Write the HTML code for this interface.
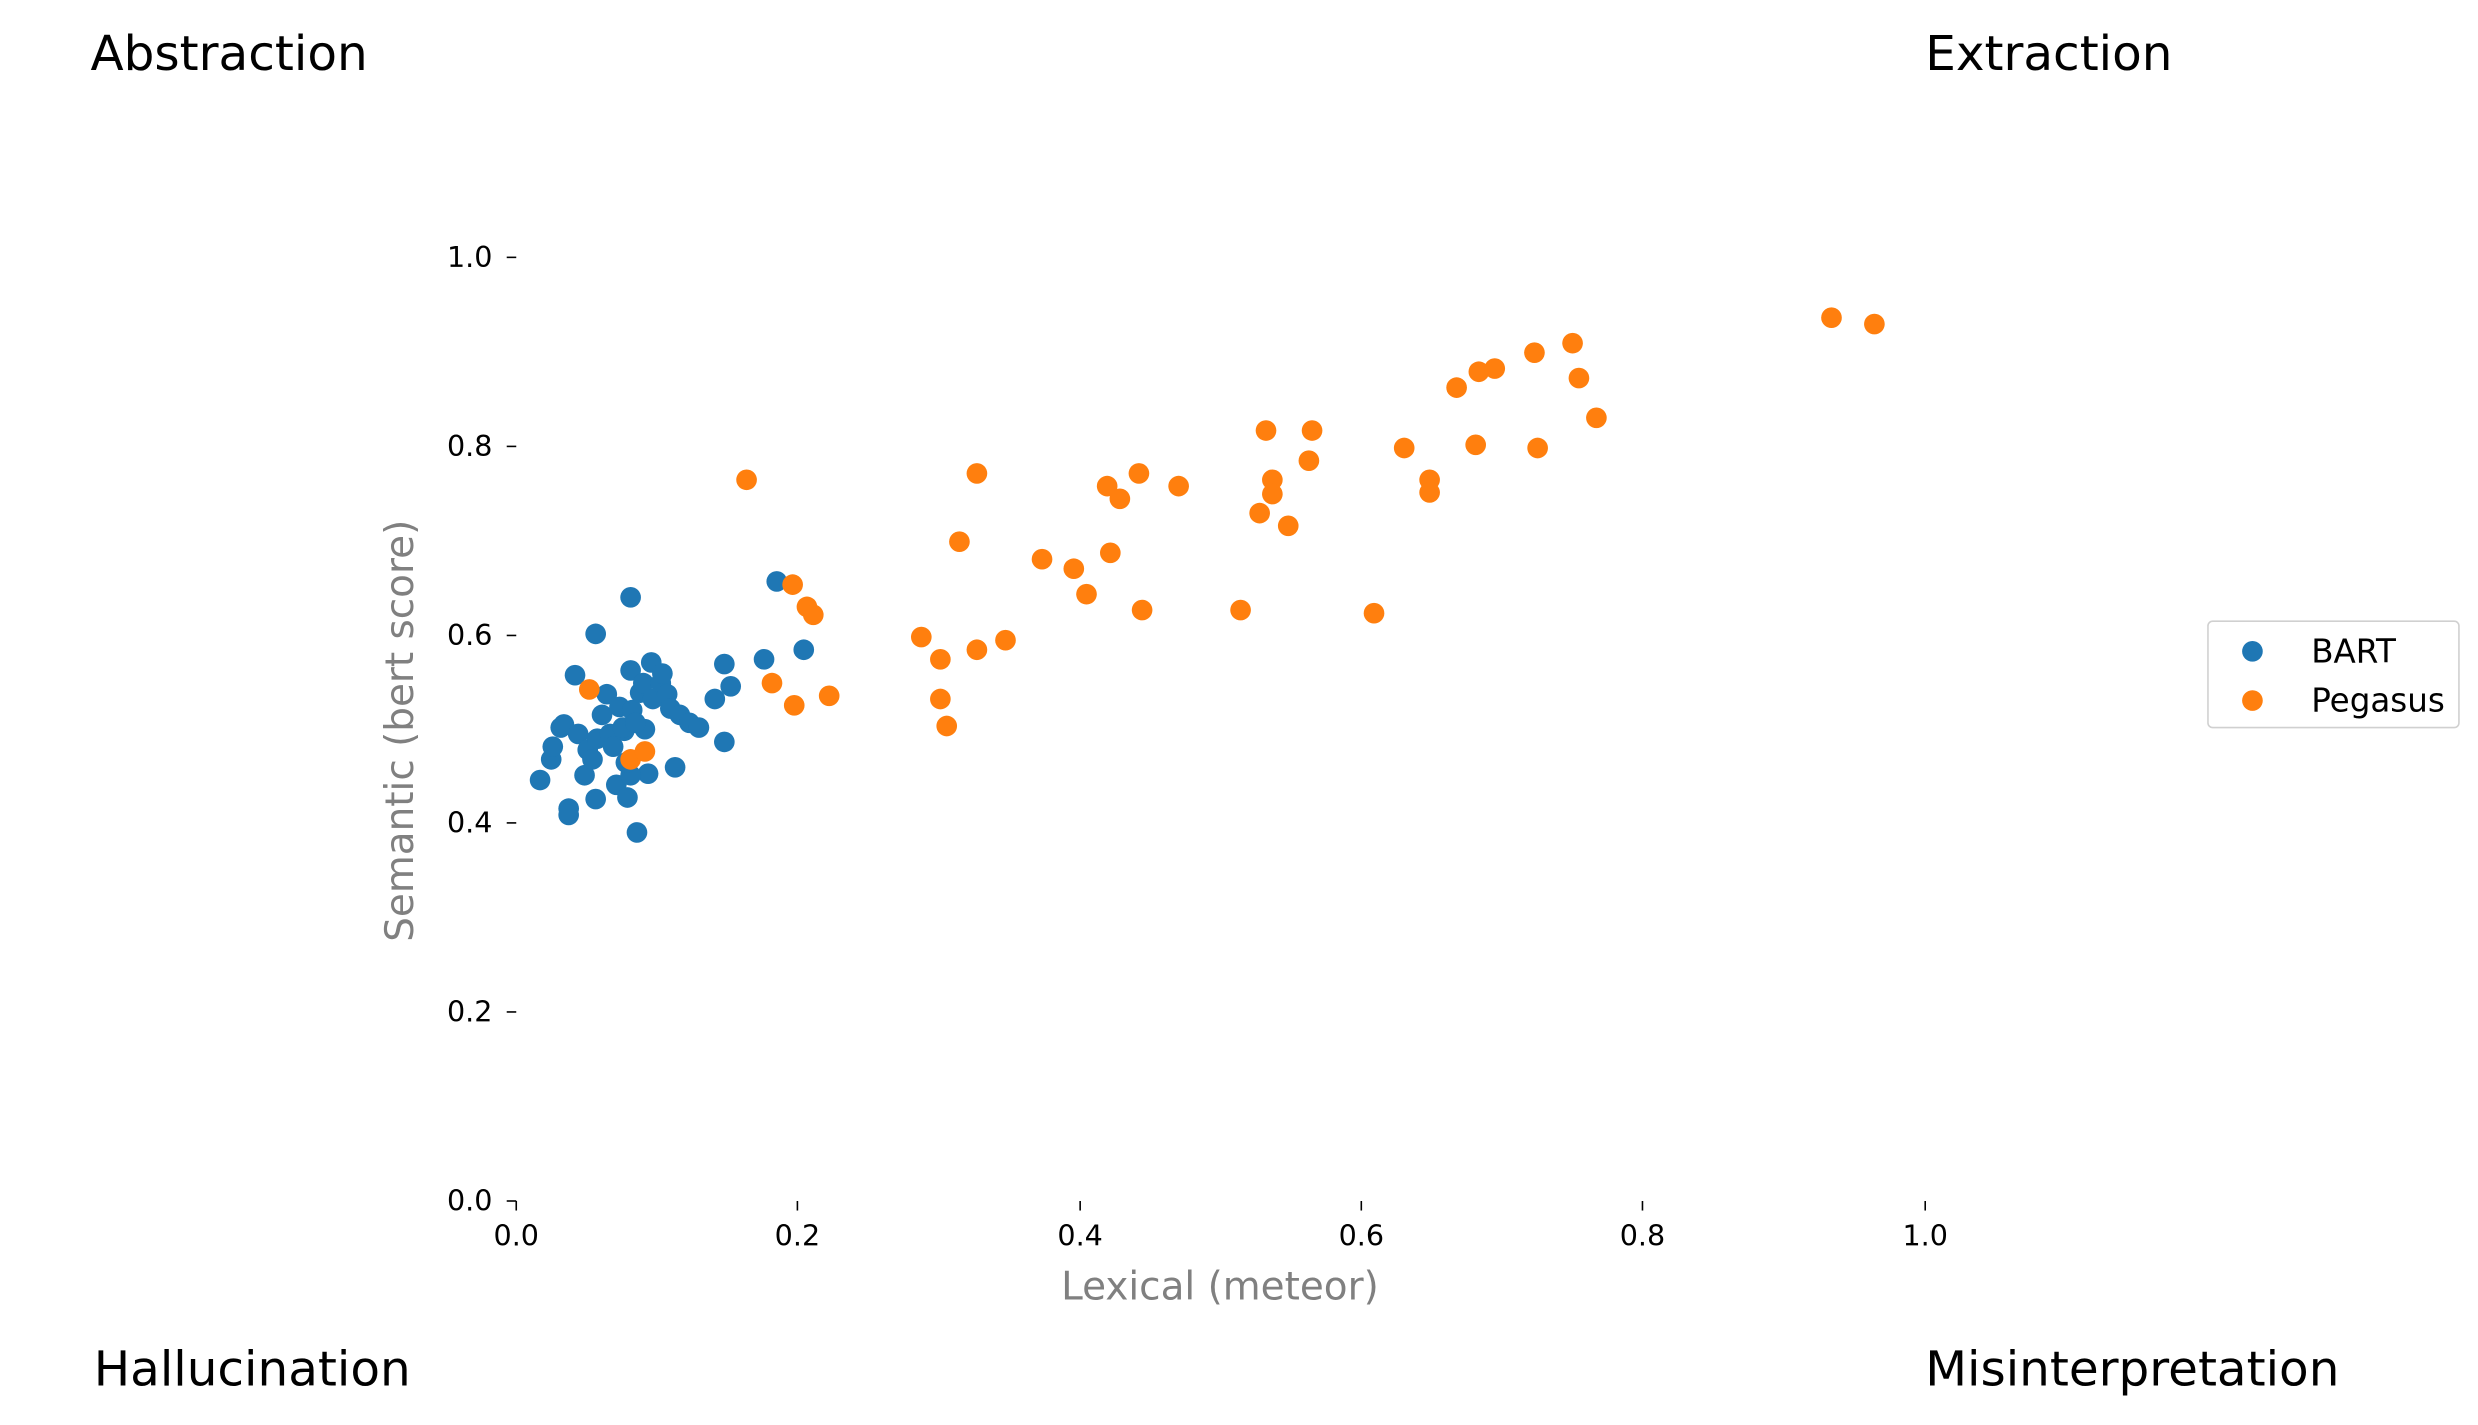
<!DOCTYPE html>
<html><head><meta charset="utf-8"><style>html,body{margin:0;padding:0;background:#fff}svg{display:block}</style></head><body>
<svg width="2478" height="1425" viewBox="0 0 1560 897" preserveAspectRatio="none" xmlns="http://www.w3.org/2000/svg" font-family="DejaVu Sans, Liberation Sans, sans-serif">
<rect width="1560" height="897" fill="#fff"/>
<g font-size="30.5" fill="#000">
<text x="57" y="44">Abstraction</text>
<text x="1212" y="44">Extraction</text>
<text x="59" y="872">Hallucination</text>
<text x="1212" y="872">Misinterpretation</text>
</g>
<g stroke="#000" stroke-width="1">
<line x1="319" y1="162" x2="325" y2="162"/><line x1="319" y1="281" x2="325" y2="281"/><line x1="319" y1="400" x2="325" y2="400"/><line x1="319" y1="518" x2="325" y2="518"/><line x1="319" y1="637" x2="325" y2="637"/><line x1="319" y1="756" x2="325" y2="756"/>
<line x1="325" y1="756" x2="325" y2="762"/><line x1="502" y1="756" x2="502" y2="762"/><line x1="680" y1="756" x2="680" y2="762"/><line x1="857" y1="756" x2="857" y2="762"/><line x1="1034" y1="756" x2="1034" y2="762"/><line x1="1212" y1="756" x2="1212" y2="762"/>
</g>
<g font-size="18" fill="#000" text-anchor="end">
<text x="310" y="168">1.0</text><text x="310" y="287">0.8</text><text x="310" y="406">0.6</text><text x="310" y="524">0.4</text><text x="310" y="643">0.2</text><text x="310" y="762">0.0</text>
</g>
<g font-size="18" fill="#000" text-anchor="middle">
<text x="325" y="784">0.0</text><text x="502" y="784">0.2</text><text x="680" y="784">0.4</text><text x="857" y="784">0.6</text><text x="1034" y="784">0.8</text><text x="1212" y="784">1.0</text>
</g>
<text x="768" y="818" font-size="24.5" fill="#808080" text-anchor="middle">Lexical (meteor)</text>
<text transform="translate(260,460) rotate(-90)" font-size="24.5" fill="#808080" text-anchor="middle">Semantic (bert score)</text>
<g fill="#1f77b4">
<circle cx="340" cy="491" r="6.5"/><circle cx="347" cy="478" r="6.5"/><circle cx="348" cy="470" r="6.5"/><circle cx="353" cy="458" r="6.5"/><circle cx="355" cy="456" r="6.5"/><circle cx="358" cy="509" r="6.5"/><circle cx="358" cy="513" r="6.5"/><circle cx="362" cy="425" r="6.5"/><circle cx="364" cy="462" r="6.5"/><circle cx="368" cy="488" r="6.5"/><circle cx="370" cy="472" r="6.5"/><circle cx="373" cy="478" r="6.5"/><circle cx="375" cy="399" r="6.5"/><circle cx="375" cy="503" r="6.5"/><circle cx="376" cy="465" r="6.5"/><circle cx="379" cy="450" r="6.5"/><circle cx="382" cy="437" r="6.5"/><circle cx="384" cy="462" r="6.5"/><circle cx="386" cy="470" r="6.5"/><circle cx="388" cy="494" r="6.5"/><circle cx="390" cy="445" r="6.5"/><circle cx="393" cy="460" r="6.5"/><circle cx="395" cy="502" r="6.5"/><circle cx="397" cy="376" r="6.5"/><circle cx="397" cy="422" r="6.5"/><circle cx="398" cy="447" r="6.5"/><circle cx="401" cy="524" r="6.5"/><circle cx="403" cy="436" r="6.5"/><circle cx="405" cy="430" r="6.5"/><circle cx="406" cy="459" r="6.5"/><circle cx="408" cy="487" r="6.5"/><circle cx="410" cy="417" r="6.5"/><circle cx="411" cy="440" r="6.5"/><circle cx="416" cy="430" r="6.5"/><circle cx="417" cy="424" r="6.5"/><circle cx="420" cy="437" r="6.5"/><circle cx="422" cy="446" r="6.5"/><circle cx="425" cy="483" r="6.5"/><circle cx="428" cy="450" r="6.5"/><circle cx="434" cy="455" r="6.5"/><circle cx="440" cy="458" r="6.5"/><circle cx="450" cy="440" r="6.5"/><circle cx="456" cy="418" r="6.5"/><circle cx="456" cy="467" r="6.5"/><circle cx="460" cy="432" r="6.5"/><circle cx="481" cy="415" r="6.5"/><circle cx="489" cy="366" r="6.5"/><circle cx="506" cy="409" r="6.5"/><circle cx="397" cy="488" r="6.5"/><circle cx="394" cy="480" r="6.5"/><circle cx="392" cy="458" r="6.5"/><circle cx="400" cy="455" r="6.5"/>
</g>
<g fill="#ff7f0e">
<circle cx="371" cy="434" r="6.5"/><circle cx="397" cy="478" r="6.5"/><circle cx="406" cy="473" r="6.5"/><circle cx="470" cy="302" r="6.5"/><circle cx="486" cy="430" r="6.5"/><circle cx="499" cy="368" r="6.5"/><circle cx="500" cy="444" r="6.5"/><circle cx="508" cy="382" r="6.5"/><circle cx="512" cy="387" r="6.5"/><circle cx="522" cy="438" r="6.5"/><circle cx="580" cy="401" r="6.5"/><circle cx="592" cy="415" r="6.5"/><circle cx="592" cy="440" r="6.5"/><circle cx="596" cy="457" r="6.5"/><circle cx="604" cy="341" r="6.5"/><circle cx="615" cy="298" r="6.5"/><circle cx="615" cy="409" r="6.5"/><circle cx="633" cy="403" r="6.5"/><circle cx="656" cy="352" r="6.5"/><circle cx="676" cy="358" r="6.5"/><circle cx="684" cy="374" r="6.5"/><circle cx="697" cy="306" r="6.5"/><circle cx="699" cy="348" r="6.5"/><circle cx="705" cy="314" r="6.5"/><circle cx="717" cy="298" r="6.5"/><circle cx="719" cy="384" r="6.5"/><circle cx="742" cy="306" r="6.5"/><circle cx="781" cy="384" r="6.5"/><circle cx="793" cy="323" r="6.5"/><circle cx="797" cy="271" r="6.5"/><circle cx="801" cy="302" r="6.5"/><circle cx="801" cy="311" r="6.5"/><circle cx="811" cy="331" r="6.5"/><circle cx="824" cy="290" r="6.5"/><circle cx="826" cy="271" r="6.5"/><circle cx="865" cy="386" r="6.5"/><circle cx="884" cy="282" r="6.5"/><circle cx="900" cy="302" r="6.5"/><circle cx="900" cy="310" r="6.5"/><circle cx="917" cy="244" r="6.5"/><circle cx="929" cy="280" r="6.5"/><circle cx="931" cy="234" r="6.5"/><circle cx="941" cy="232" r="6.5"/><circle cx="966" cy="222" r="6.5"/><circle cx="968" cy="282" r="6.5"/><circle cx="990" cy="216" r="6.5"/><circle cx="994" cy="238" r="6.5"/><circle cx="1005" cy="263" r="6.5"/><circle cx="1153" cy="200" r="6.5"/><circle cx="1180" cy="204" r="6.5"/>
</g>
<rect x="1390" y="391" width="158" height="67" rx="3" fill="#fff" stroke="#d0d0d0" stroke-width="1"/>
<circle cx="1418" cy="410" r="6.5" fill="#1f77b4"/>
<circle cx="1418" cy="441" r="6.5" fill="#ff7f0e"/>
<g font-size="20.5" fill="#000"><text x="1455" y="417">BART</text><text x="1455" y="448">Pegasus</text></g>
</svg>
</body></html>
